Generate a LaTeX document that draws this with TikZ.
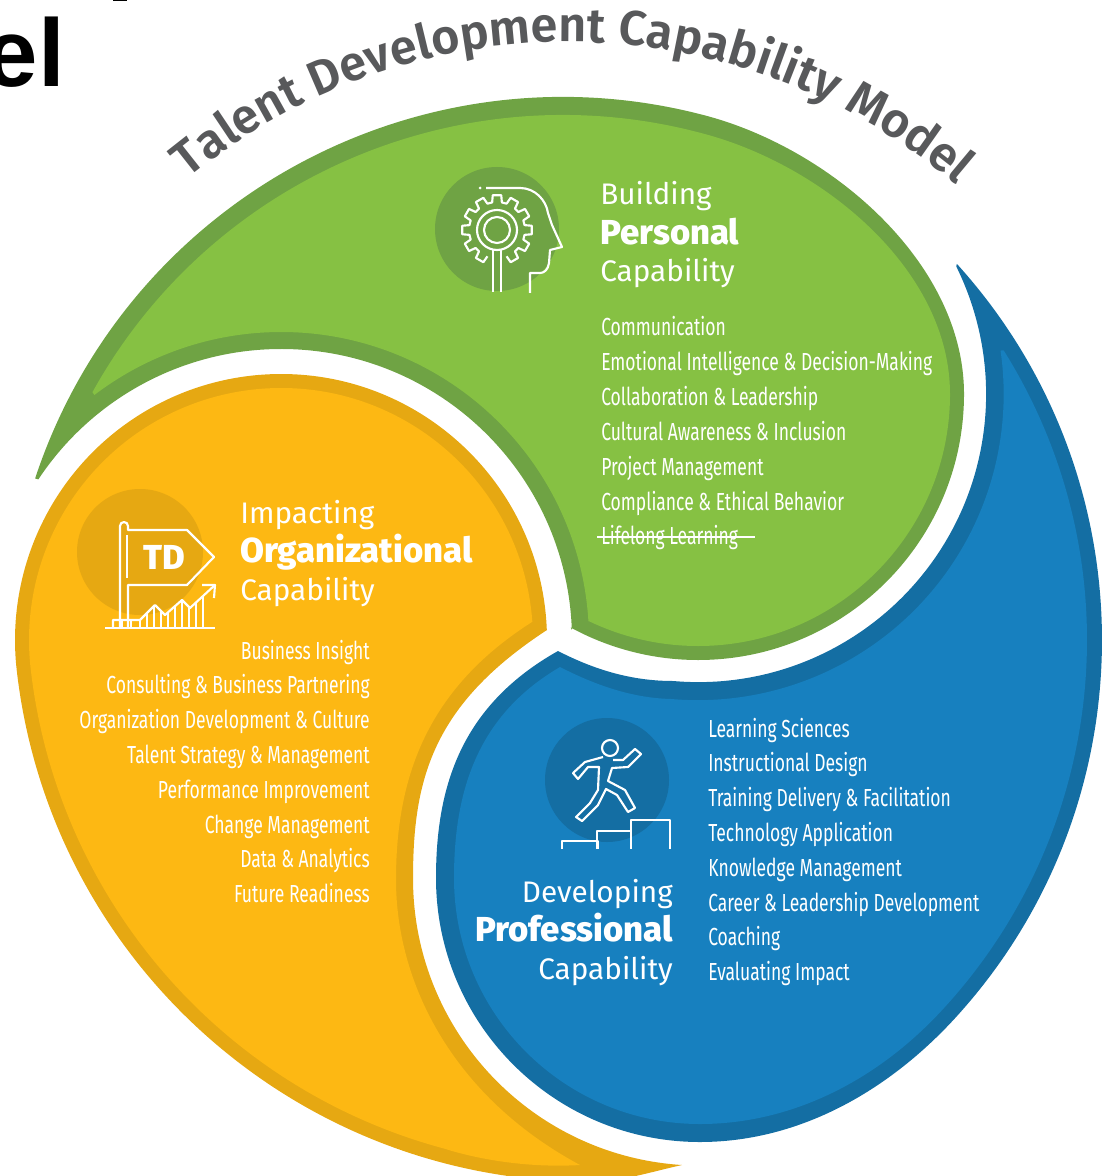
\documentclass[tikz,border=0pt]{standalone}
\usepackage{fontspec}
\usepackage{xcolor}
\usetikzlibrary{decorations.text}
\setmainfont{Fira Sans}
\newfontfamily\listfont[FakeStretch=0.71]{Fira Sans}
\newfontfamily\heavyfont{Fira Sans ExtraBold}
\newfontfamily\titlefont{Fira Sans SemiBold}
\newfontfamily\arialfont{Liberation Sans}
\definecolor{greenlight}{HTML}{86C143}
\definecolor{greendark}{HTML}{6FA344}
\definecolor{orangelight}{HTML}{FDB813}
\definecolor{orangedark}{HTML}{E6A812}
\definecolor{bluelight}{HTML}{1780BF}
\definecolor{bluedark}{HTML}{146EA3}
\definecolor{titlegray}{HTML}{58595B}
\tikzset{
  listitem/.style={text=white,inner sep=0pt,font=\listfont\fontsize{18.5}{20}\selectfont},
  headlight/.style={text=white,inner sep=0pt,font=\fontsize{22.3}{24}\selectfont},
  headbold/.style={text=white,inner sep=0pt,font=\heavyfont\fontsize{26}{27}\selectfont},
  iconline/.style={draw=white,line width=1.6pt,line join=round}
}
\begin{document}
\begin{tikzpicture}[x=0.75pt,y=-0.75pt]
\useasboundingbox (0,0) rectangle (1107,1176);
\clip (0,0) rectangle (1107,1176);
% cut-off word at the top left
\node[anchor=base east,inner sep=0pt,font=\arialfont\bfseries\fontsize{72}{72}\selectfont] (cutword) at (65,87) {el};
\fill[black] (113,0) rectangle (127,1.5);

% title along the top
\path[decorate,decoration={text along path,text align=center,
  text={|\titlefont\fontsize{36.5}{37}\selectfont\color{titlegray}|Talent Development Capability Model}}]
  (568,640) ++(-131:598) arc[start angle=-131,end angle=-48,radius=598];

% green (top)
\fill[greendark] ([shift={(198.3:556)}]563,653) arc[start angle=198.3,end angle=285,radius=556]
  .. controls (833,150) and (964,264) .. (964,394)
  arc[start angle=0,end angle=118.6,radius=266]
  -- ([shift={(-2:291)}]281,640) arc[start angle=-2,end angle=-146.5,radius=291] -- cycle;
\fill[greenlight] ([shift={(209:538)}]563,653) arc[start angle=209,end angle=285,radius=538]
  .. controls (823,165) and (950,270) .. (950,394)
  arc[start angle=0,end angle=115.8,radius=252]
  -- ([shift={(-3.4:308)}]281,640) arc[start angle=-3.4,end angle=-127.3,radius=308] -- cycle;

% orange (left)
\fill[orangedark] ([shift={(-2.2:266)}]281,640) arc[start angle=-2.2,end angle=-186.5,radius=266]
  arc[start angle=173.5,end angle=90,radius=577]
  .. controls (620,1182) and (650,1172) .. (682,1165)
  arc[start angle=93.6,end angle=180,radius=287]
  .. controls (413,780) and (432,705) .. (547,630) -- cycle;
\fill[orangelight] ([shift={(-4.1:252)}]281,640) arc[start angle=-4.1,end angle=-186.5,radius=252]
  arc[start angle=173.5,end angle=105,radius=563]
  .. controls (480,1160) and (530,1168) .. (580,1165)
  .. controls (450,1095) and (396,980) .. (396,880)
  .. controls (396,780) and (425,690) .. (532,622) -- cycle;

% blue (right)
\fill[bluedark] ([shift={(-42.2:560)}]542,640) arc[start angle=-42.2,end angle=43,radius=560]
  .. controls (883,1095) and (795,1142) .. (700,1142)
  arc[start angle=90,end angle=180,radius=264]
  .. controls (436,785) and (462,705) .. (558,651)
  .. controls (595,670) and (632,681) .. (673,681)
  arc[start angle=95,end angle=-26.3,radius=288] -- cycle;
\fill[bluelight] ([shift={(-32.1:545)}]542,640) arc[start angle=-32.1,end angle=43,radius=545]
  .. controls (875,1082) and (790,1124) .. (700,1124)
  arc[start angle=90,end angle=180,radius=246]
  .. controls (454,790) and (478,715) .. (560,667)
  .. controls (595,685) and (632,698) .. (671,699)
  arc[start angle=95,end angle=-8.2,radius=306] -- cycle;

% icon discs
\fill[greendark] (497,229) circle[radius=62];
\fill[orangedark] (140,552) circle[radius=63];
\fill[bluedark] (607,780) circle[radius=62];

% head with gear
\begin{scope}[shift={(497,230)}]
  \draw[iconline] \foreach \a [count=\n] in {120,150,...,420} {
    \ifnum\n=1 (\a-10:28) \else -- (\a-10:28) \fi -- (\a-7:35) -- (\a+7:35) -- (\a+10:28)};
  \draw[iconline] (0,0) circle[radius=20];
  \draw[iconline] (0,0) circle[radius=13];
\end{scope}
\draw[iconline] (493,250) -- (493,292) (501,250) -- (501,292);
\fill[white] (480,188) circle[radius=1.5];
\draw[iconline] (486,188) -- (520,188) .. controls (535,188) and (546,200) .. (548,213) -- (552,225) -- (562,247) -- (550,250) -- (549,263) .. controls (548,270) and (544,273) .. (540,273) -- (530,273) -- (530,293);

% flag with chart
\node[inner sep=0pt,text=white,font=\heavyfont\fontsize{26}{26}\selectfont] (flagtext) at (164,557) {TD};
\draw[iconline] (120,627) -- (120,526) arc[start angle=180,end angle=360,radius=4] -- (128,530) -- (187,530) -- (214,557) -- (187,585) -- (128,585) -- (128,627);
\draw[iconline] (127,535) -- (127,578);
\draw[iconline] (105,628) -- (215,628);
\draw[iconline] (113,628) -- (113,620) -- (140,620) -- (155,605) -- (165,615) -- (182,600) -- (190,608) -- (215,585);
\draw[iconline] (202,585) -- (215,585) -- (214,598);
\foreach \x/\y in {122/620,131/620,140/620,147/612,154/606,161/611,168/612,175/606,182/600,189/607,196/602,203/596} {
  \draw[white,line width=1pt] (\x,628) -- (\x,\y);
}

% runner on steps
\draw[iconline] (610,748) circle[radius=8];
\draw[iconline] (603,757) -- (585,762) -- (573,773) -- (578,779) -- (588,767) -- (599,767) -- (598,790) -- (590,803) -- (576,817) -- (582,821) -- (598,805) -- (606,789) -- (617,795) -- (628,812) -- (635,808) -- (625,790) -- (608,781) -- (612,768) -- (628,767) -- (641,754) -- (635,749) -- (623,760) -- (613,760);
\draw[iconline] (562,849) -- (562,841) -- (598,841) -- (598,849);
\draw[iconline] (597,849) -- (597,831) -- (631,831) -- (631,849);
\draw[iconline] (631,831) -- (631,820) -- (670,820) -- (670,849);

% green texts
\node[headlight,anchor=base west] (buildhead) at (600,205) {Building};
\node[headbold,anchor=base west] (personalhead) at (600,245) {Personal};
\node[headlight,anchor=base west] (personalcap) at (600,282) {Capability};
\foreach \i/\t in {0/Communication,1/Emotional Intelligence \& Decision-Making,2/Collaboration \& Leadership,3/Cultural Awareness \& Inclusion,4/Project Management,5/Compliance \& Ethical Behavior,6/Lifelong Learning} {
  \node[listitem,anchor=base west] (greenitem\i) at (601,{336+34.8*\i}) {\t};
}
\coordinate (strikeend) at (755,537);
\draw[white,line width=0.9pt] (597,537) -- (strikeend);

% orange texts
\node[headlight,anchor=base west] (impacthead) at (240,523) {Impacting};
\node[headbold,anchor=base west] (orghead) at (240,562) {Organizational};
\node[headlight,anchor=base west] (orgcap) at (240,600) {Capability};
\foreach \i/\t in {0/Business Insight,1/Consulting \& Business Partnering,2/Organization Development \& Culture,3/Talent Strategy \& Management,4/Performance Improvement,5/Change Management,6/Data \& Analytics,7/Future Readiness} {
  \node[listitem,anchor=base east] (orangeitem\i) at (370,{659+34.8*\i}) {\t};
}

% blue texts
\node[headlight,anchor=base east] (devhead) at (673,902) {Developing};
\node[headbold,anchor=base east] (profhead) at (673,941) {Professional};
\node[headlight,anchor=base east] (profcap) at (673,979) {Capability};
\foreach \i/\t in {0/Learning Sciences,1/Instructional Design,2/Training Delivery \& Facilitation,3/Technology Application,4/Knowledge Management,5/Career \& Leadership Development,6/Coaching,7/Evaluating Impact} {
  \node[listitem,anchor=base west] (blueitem\i) at (708,{737+34.8*\i}) {\t};
}
\end{tikzpicture}
\end{document}
